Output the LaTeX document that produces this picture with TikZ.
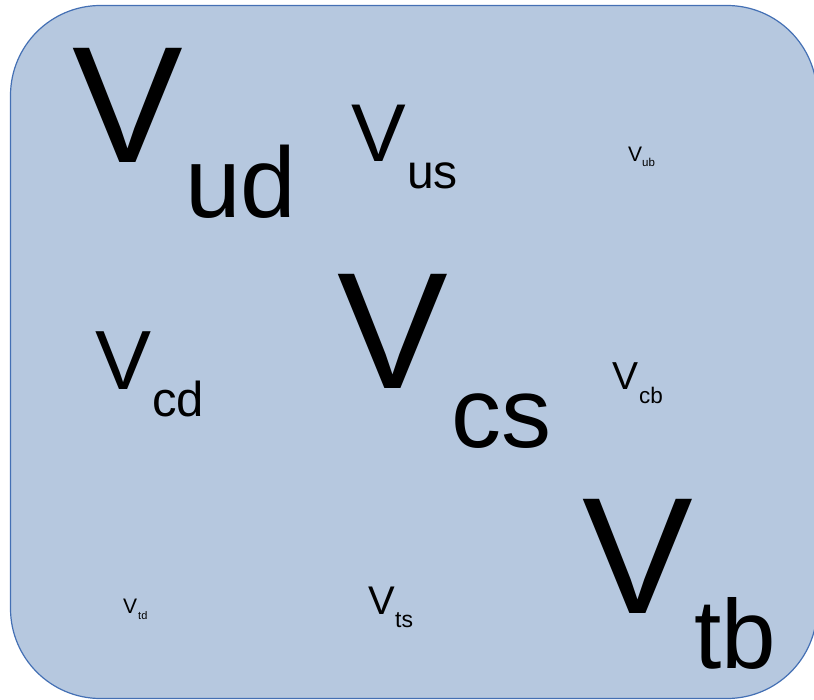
\documentclass[tikz,border=0pt]{standalone}
\usepackage{fontspec}
\setmainfont{Liberation Sans}
\definecolor{boxfill}{HTML}{B6C8DF}
\definecolor{boxline}{HTML}{4470B4}
\newcommand{\fsz}[1]{\fontsize{#1pt}{#1pt}\selectfont}
\tikzset{lbl/.style={inner sep=0pt, anchor=base west, text=black, font=\fsz{#1}}}
\begin{document}
\begin{tikzpicture}[x=1pt,y=-1pt]
\useasboundingbox (0,0) rectangle (814,700);
\draw[fill=boxfill, draw=boxline, line width=1.2pt, rounded corners=90pt] (10.5,5.5) rectangle (817,698.5);
% row 1
\node[lbl=166] (Vud) at (72,163) {V};
\node[lbl=100] (ud) at (185,218) {ud};
\node[lbl=82] (Vus) at (351,162) {V};
\node[lbl=48] (us) at (407,189) {us};
\node[lbl=21] (Vub) at (628,162) {V};
\node[lbl=11.5] (ub) at (642,167) {ub};
% row 2
\node[lbl=84] (Vcd) at (95,390) {V};
\node[lbl=49] (cd) at (152,417) {cd};
\node[lbl=166] (Vcs) at (337,389) {V};
\node[lbl=100] (cs) at (451,447) {cs};
\node[lbl=39] (Vcb) at (612,390) {V};
\node[lbl=22.5] (cb) at (639,403) {cb};
% row 3
\node[lbl=21] (Vtd) at (123,613) {V};
\node[lbl=11] (td) at (138,619) {td};
\node[lbl=40] (Vts) at (368,614) {V};
\node[lbl=23] (ts) at (395,627) {ts};
\node[lbl=166] (Vtb) at (582,613) {V};
\node[lbl=98] (tb) at (694,668) {tb};
\end{tikzpicture}
\end{document}
